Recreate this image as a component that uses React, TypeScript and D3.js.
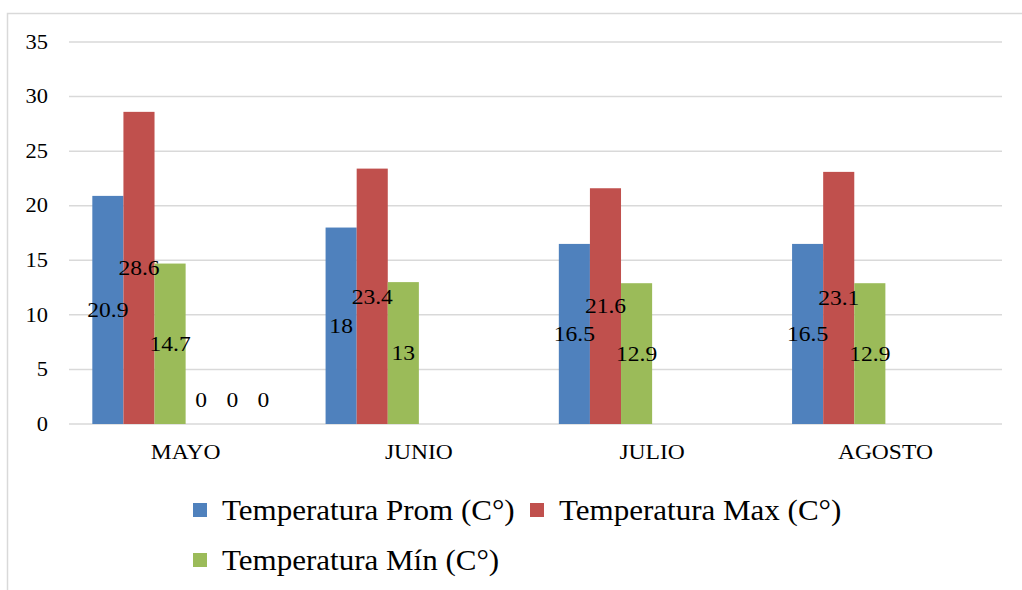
import React from "react";
import * as d3 from "d3";

const categories = ["MAYO", "JUNIO", "JULIO", "AGOSTO"];
const seriesNames = [
  "Temperatura Prom (C°)",
  "Temperatura Max (C°)",
  "Temperatura Mín (C°)",
  "Serie 4",
  "Serie 5",
  "Serie 6",
];
const promValues = [20.9, 18, 16.5, 16.5];
const maxValues = [28.6, 23.4, 21.6, 23.1];
const minValues = [14.7, 13, 12.9, 12.9];
const extra1 = [0, null, null, null];
const extra2 = [0, null, null, null];
const extra3 = [0, null, null, null];
const yTicks = [0, 5, 10, 15, 20, 25, 30, 35];
const colors = ["#4F81BD", "#C0504D", "#9BBB59", "#8064A2", "#4BACC6", "#F79646"];
const legendCount = 3;

const allSeries: (number | null)[][] = [promValues, maxValues, minValues, extra1, extra2, extra3];

const W = 1022;
const H = 590;
const SX = 1.07;
const FONT = "'Liberation Serif', 'Times New Roman', serif";

export default function App() {
  const y = d3.scaleLinear().domain([0, 35]).range([424, 42]);
  const x = d3.scaleBand<string>().domain(categories).range([69, 1002]).paddingInner(0).paddingOuter(0);
  const step = x.bandwidth();
  const gap = step * (1.5 / (seriesNames.length + 1.5));
  const xs = d3
    .scaleBand<number>()
    .domain(d3.range(seriesNames.length))
    .range([gap / 2, step - gap / 2])
    .padding(0);
  const bw = xs.bandwidth();

  const legendItems = [
    { i: 0, x: 193, y: 510 },
    { i: 1, x: 530, y: 510 },
    { i: 2, x: 193, y: 560 },
  ];

  return (
    <div style={{ position: "absolute", left: 0, top: 0, width: W, height: H, background: "#fff" }}>
      <svg width={W} height={H} style={{ display: "block" }}>
        <rect x={7.5} y={13.5} width={1200} height={800} fill="#fff" stroke="#d9d9d9" strokeWidth={1.5} />
        {yTicks.map((t) => (
          <g key={t}>
            <line x1={69} x2={1002} y1={y(t)} y2={y(t)} stroke="#d9d9d9" strokeWidth={1.5} />
            <text
              transform={`translate(48,${y(t)}) scale(${SX},1)`}
              textAnchor="end"
              dominantBaseline="central"
              fontFamily={FONT}
              fontSize={21}
              fill="#000"
            >
              {t}
            </text>
          </g>
        ))}
        {categories.map((c, ci) => (
          <g key={c}>
            {allSeries.map((s, si) => {
              const v = s[ci];
              if (v === null || v === undefined) return null;
              const bx = (x(c) as number) + (xs(si) as number);
              return (
                <rect key={si} x={bx} y={y(v)} width={bw} height={y(0) - y(v)} fill={colors[si]} />
              );
            })}
            {allSeries.map((s, si) => {
              const v = s[ci];
              if (v === null || v === undefined) return null;
              const cx = (x(c) as number) + (xs(si) as number) + bw / 2;
              const cy = Math.min((y(v) + y(0)) / 2, y(0) - 24);
              return (
                <text
                  key={"l" + si}
                  transform={`translate(${cx},${cy}) scale(${SX},1)`}
                  textAnchor="middle"
                  dominantBaseline="central"
                  fontFamily={FONT}
                  fontSize={22}
                  fill="#000"
                >
                  {v}
                </text>
              );
            })}
            <text
              transform={`translate(${(x(c) as number) + step / 2},452) scale(${SX},1)`}
              textAnchor="middle"
              dominantBaseline="central"
              fontFamily={FONT}
              fontSize={22}
              fill="#000"
            >
              {c}
            </text>
          </g>
        ))}
        {legendItems.slice(0, legendCount).map((l) => (
          <g key={l.i}>
            <rect x={l.x} y={l.y - 7} width={14} height={14} fill={colors[l.i]} />
            <text
              transform={`translate(${l.x + 29},${l.y}) scale(${SX},1)`}
              dominantBaseline="central"
              fontFamily={FONT}
              fontSize={29}
              fill="#000"
            >
              {seriesNames[l.i]}
            </text>
          </g>
        ))}
      </svg>
    </div>
  );
}
